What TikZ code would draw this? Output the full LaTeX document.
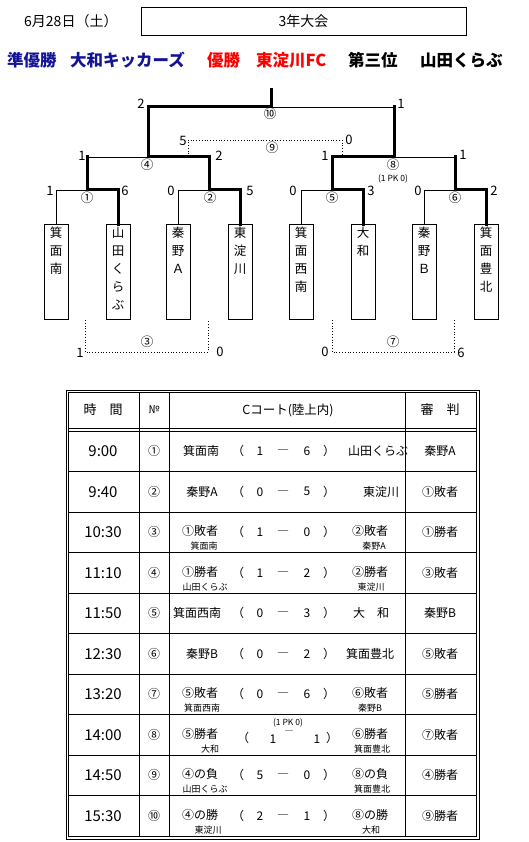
\documentclass[tikz,border=0pt]{standalone}
\usepackage{fontspec}
\setmainfont{Noto Sans CJK JP}
\usetikzlibrary{positioning}
\definecolor{navytext}{RGB}{20,20,150}
\definecolor{redtext}{RGB}{255,0,0}
\newcommand{\tate}[1]{\parbox[c][89pt][t]{18pt}{\centering #1}}

\begin{document}
\begin{tikzpicture}[x=1pt, y=-1pt,
    win/.style={line width=3pt, line cap=rect},
    lose/.style={line width=0.8pt},
    cons/.style={line width=0.8pt, dotted},
    team/.style={draw, line width=0.8pt, anchor=north, inner sep=3pt, font=\fontsize{12.5}{18}\selectfont},
    score/.style={font=\fontsize{13}{13}\selectfont, inner sep=0pt},
    gameno/.style={font=\fontsize{12.5}{12.5}\selectfont, inner sep=0pt},
    cell/.style={font=\fontsize{12}{12}\selectfont, inner sep=0pt},
    sub/.style={font=\fontsize{9}{9}\selectfont, inner sep=0pt},
    clock/.style={font=\fontsize{15}{15}\selectfont, inner sep=0pt},
    result/.style={font=\fontsize{16.5}{16.5}\selectfont\bfseries, anchor=west, inner sep=0pt}]

    \useasboundingbox (0,0) rectangle (528,842);

    \node (date) [anchor=west, inner sep=0pt, font=\fontsize{14}{14}\selectfont] at (24,21) {6月28日（土）};
    \node (title) [draw, line width=0.8pt, minimum width=325pt, minimum height=28pt, inner sep=0pt, font=\fontsize{14}{14}\selectfont] at (303.5,21) {3年大会};

    \node (rank2) [result, text=navytext] at (7,60) {準優勝};
    \node (team2) [result, text=navytext] at (70,60) {大和キッカーズ};
    \node (rank1) [result, text=redtext] at (207,60) {優勝};
    \node (team1) [result, text=redtext] at (256,60) {東淀川FC};
    \node (rank3) [result] at (348,60) {第三位};
    \node (team3) [result] at (420,60) {山田くらぶ};

    \node (t1) [team] at (56,224) {\tate{箕\\面\\南}};
    \node (t2) [team] at (118,224) {\tate{山\\田\\く\\ら\\ぶ}};
    \node (t3) [team] at (178,224) {\tate{秦\\野\\Ａ}};
    \node (t4) [team] at (240,224) {\tate{東\\淀\\川}};
    \node (t5) [team] at (301,224) {\tate{箕\\面\\西\\南}};
    \node (t6) [team] at (363,224) {\tate{大\\和}};
    \node (t7) [team] at (424,224) {\tate{秦\\野\\Ｂ}};
    \node (t8) [team] at (486,224) {\tate{箕\\面\\豊\\北}};

    \coordinate (m1) at (87,190);
    \coordinate (m2) at (209,190);
    \coordinate (m5) at (332,190);
    \coordinate (m6) at (455,190);
    \coordinate (m4) at (148,157);
    \coordinate (m8) at (394,157);
    \coordinate (m10) at (271,107);
    \coordinate (top) at (271,90);

    \draw[lose] (t1.north) |- (m1);
    \draw[win] (t2.north) |- (m1);
    \draw[lose] (t3.north) |- (m2);
    \draw[win] (t4.north) |- (m2);
    \draw[lose] (t5.north) |- (m5);
    \draw[win] (t6.north) |- (m5);
    \draw[lose] (t7.north) |- (m6);
    \draw[win] (t8.north) |- (m6);

    \draw[win] (m1) -- (m1 |- m4);
    \draw[lose] (m1 |- m4) -- (m4);
    \draw[win] (m2) |- (m4);
    \draw[win] (m5) |- (m8);
    \draw[win] (m6) -- (m6 |- m8);
    \draw[lose] (m6 |- m8) -- (m8);

    \draw[win] (m4) |- (m10);
    \draw[win] (m8) -- (m8 |- m10);
    \draw[lose] (m8 |- m10) -- (m10);
    \draw[win] (m10) -- (top);

    \coordinate (c9l) at (188,157);
    \coordinate (c9r) at (342,157);
    \coordinate (c9t) at (188,140);
    \draw[cons] (c9l) -- (c9t) -| (c9r);

    \coordinate (c3l) at (85,320);
    \coordinate (c3r) at (208,320);
    \coordinate (c3b) at (85,352);
    \draw[cons] (c3l) -- (c3b) -| (c3r);

    \coordinate (c7l) at (332,320);
    \coordinate (c7r) at (454,320);
    \coordinate (c7b) at (332,352);
    \draw[cons] (c7l) -- (c7b) -| (c7r);

    \node (g1) [gameno] at (87,198) {①};
    \node (g2) [gameno] at (210,198) {②};
    \node (g3) [gameno] at (147,342) {③};
    \node (g4) [gameno] at (147,165) {④};
    \node (g5) [gameno] at (332,198) {⑤};
    \node (g6) [gameno] at (455,198) {⑥};
    \node (g7) [gameno] at (393,342) {⑦};
    \node (g8) [gameno] at (393,165) {⑧};
    \node (g9) [gameno] at (272,148) {⑨};
    \node (g10) [gameno] at (270,114) {⑩};
    \node (pk) [font=\fontsize{8.5}{8.5}\selectfont, inner sep=0pt] at (393,179) {(1 PK 0)};

    \node (s1l) [score] at (50,191) {1};
    \node (s1r) [score] at (125,191) {6};
    \node (s2l) [score] at (171,191) {0};
    \node (s2r) [score] at (250,191) {5};
    \node (s5l) [score] at (293,191) {0};
    \node (s5r) [score] at (371,191) {3};
    \node (s6l) [score] at (418,191) {0};
    \node (s6r) [score] at (494,191) {2};
    \node (s4l) [score] at (82,156) {1};
    \node (s4r) [score] at (219,156) {2};
    \node (s8l) [score] at (325,156) {1};
    \node (s8r) [score] at (463,155) {1};
    \node (s10l) [score] at (141,104) {2};
    \node (s10r) [score] at (401,104) {1};
    \node (s9l) [score] at (183,141) {5};
    \node (s9r) [score] at (349,140) {0};
    \node (s3l) [score] at (80,353) {1};
    \node (s3r) [score] at (220,352) {0};
    \node (s7l) [score] at (325,352) {0};
    \node (s7r) [score] at (461,353) {6};

    \draw[lose] (66,390) rectangle (479,839);
    \draw[lose] (68.5,392.5) rectangle (476.5,836.5);
    \draw[lose] (68.5,428) -- (476.5,428);
    \draw[lose] (68.5,431) -- (476.5,431);
    \foreach \cx in {139,169,405}
        \draw[lose] (\cx,392.5) -- (\cx,836.5);
    \foreach \k in {1,...,9}
        \draw[lose] (68.5,{431+40.5*\k}) -- (476.5,{431+40.5*\k});

    \node (hd1) [cell, font=\fontsize{13}{13}\selectfont] at (103,410) {時　間};
    \node (hd2) [cell, font=\fontsize{11}{11}\selectfont] at (154,410) {№};
    \node (hd3) [cell, font=\fontsize{12.5}{12.5}\selectfont] at (288,410) {Cコート(陸上内)};
    \node (hd4) [cell, font=\fontsize{13}{13}\selectfont] at (440,410) {審　判};

    \foreach \tm/\no/\lt/\lx/\rt/\rx/\rf/\dy [count=\r from 0] in {
        9:00/①/箕面南/201/山田くらぶ/378/秦野A/0,
        9:40/②/秦野A/202/東淀川/381/①敗者/0,
        10:30/③/①敗者/200/②敗者/370/①勝者/-1,
        11:10/④/①勝者/200/②勝者/370/③敗者/-1,
        11:50/⑤/箕面西南/197/大　和/371/秦野B/0,
        12:30/⑥/秦野B/202/箕面豊北/370/⑤敗者/0,
        13:20/⑦/⑤敗者/200/⑥敗者/370/⑤勝者/-1,
        14:00/⑧/⑤勝者/200/⑥勝者/370/⑦敗者/-1,
        14:50/⑨/④の負/200/⑧の負/370/④勝者/-1,
        15:30/⑩/④の勝/200/⑧の勝/370/⑨勝者/-1}
    {
        \pgfmathsetmacro\yc{451.25+40.5*\r}
        \node (tm\r) [clock] at (103,\yc) {\tm};
        \node (no\r) [cell] at (154,\yc) {\no};
        \node (lt\r) [cell] at (\lx,{\yc+\dy}) {\lt};
        \node (rt\r) [cell] at (\rx,{\yc+\dy}) {\rt};
        \node (rf\r) [cell] at (440,\yc) {\rf};
    }

    \foreach \ls/\rs/\r in {1/6/0, 0/5/1, 1/0/2, 1/2/3, 0/3/4, 0/2/5, 0/6/6, 5/0/8, 2/1/9}
    {
        \pgfmathsetmacro\yc{451.25+40.5*\r}
        \node (po\r) [cell] at (238,\yc) {（};
        \node (ls\r) [cell] at (260,\yc) {\ls};
        \node (da\r) [cell] at (283,{\yc+1}) {―};
        \node (rs\r) [cell] at (307,\yc) {\rs};
        \node (pc\r) [cell] at (329,\yc) {）};
    }
    \node (po7) [cell] at (243,738) {（};
    \node (ls7) [cell] at (273,739) {1};
    \node (da7) [sub] at (289,733) {―};
    \node (rs7) [cell] at (317,739) {1};
    \node (pc7) [cell] at (332,738) {）};
    \node (pk7) [sub, font=\fontsize{8.5}{8.5}\selectfont] at (288,723) {(1 PK 0)};

    \node (sl2) [sub] at (204,546) {箕面南};
    \node (sr2) [sub] at (374,546) {秦野A};
    \node (sl3) [sub] at (205,587) {山田くらぶ};
    \node (sr3) [sub] at (371,587) {東淀川};
    \node (sl6) [sub] at (202,708) {箕面西南};
    \node (sr6) [sub] at (370,708) {秦野B};
    \node (sl7) [sub] at (210,749) {大和};
    \node (sr7) [sub] at (372,749) {箕面豊北};
    \node (sl8) [sub] at (205,789) {山田くらぶ};
    \node (sr8) [sub] at (372,789) {箕面豊北};
    \node (sl9) [sub] at (208,830) {東淀川};
    \node (sr9) [sub] at (371,830) {大和};
\end{tikzpicture}
\end{document}
